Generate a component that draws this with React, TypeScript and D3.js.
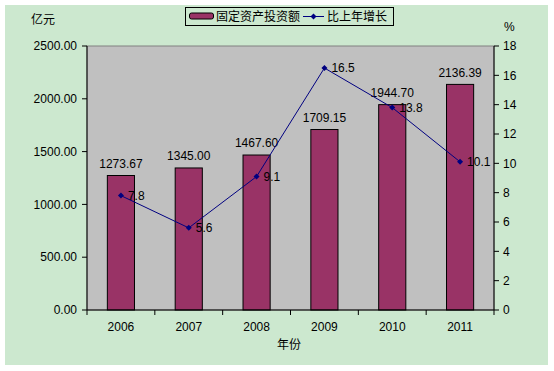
import React from "react";
import * as d3 from "d3";

const years = ["2006", "2007", "2008", "2009", "2010", "2011"];
const investment = [1273.67, 1345.0, 1467.6, 1709.15, 1944.7, 2136.39];
const growth = [7.8, 5.6, 9.1, 16.5, 13.8, 10.1];
const leftTicks = [0, 500, 1000, 1500, 2000, 2500];
const rightTicks = [0, 2, 4, 6, 8, 10, 12, 14, 16, 18];

const W = 554;
const H = 371;
const plot = { left: 87, right: 494, top: 46, bottom: 310 };
const numFont = "'Liberation Sans', Arial, sans-serif";
const cjkFont = "'Noto Sans CJK SC', sans-serif";

export default function App() {
  const x = d3.scaleBand<string>().domain(years).range([plot.left, plot.right]).paddingInner(0).paddingOuter(0);
  const yL = d3.scaleLinear().domain([0, 2500]).range([plot.bottom, plot.top]);
  const yR = d3.scaleLinear().domain([0, 18]).range([plot.bottom, plot.top]);
  const bw = x.bandwidth() / 2.5;
  const cx = (d: string) => (x(d) as number) + x.bandwidth() / 2;
  const line = d3
    .line<number>()
    .x((_, i) => cx(years[i]))
    .y((d) => yR(d));
  const diamond = (px: number, py: number, r = 3) =>
    `M${px},${py - r}L${px + r},${py}L${px},${py + r}L${px - r},${py}Z`;

  return (
    <svg
      width={W}
      height={H}
      style={{ position: "absolute", left: 0, top: 0, display: "block" }}
    >
      <rect x={0} y={0} width={W} height={H} fill="#ffffff" />
      <rect x={5} y={5} width={543} height={360} fill="#CCE8CF" />
      {/* plot area */}
      <rect
        x={plot.left}
        y={plot.top}
        width={plot.right - plot.left}
        height={plot.bottom - plot.top}
        fill="#C0C0C0"
        stroke="#808080"
        strokeWidth={1}
      />
      {/* bars */}
      {investment.map((v, i) => (
        <rect
          key={years[i]}
          x={cx(years[i]) - bw / 2}
          y={yL(v)}
          width={bw}
          height={plot.bottom - yL(v)}
          fill="#993366"
          stroke="#000000"
          strokeWidth={1}
        />
      ))}
      {/* axes */}
      <line x1={plot.left} x2={plot.left} y1={plot.top} y2={plot.bottom} stroke="#000" />
      <line x1={plot.right} x2={plot.right} y1={plot.top} y2={plot.bottom} stroke="#000" />
      <line x1={plot.left} x2={plot.right} y1={plot.bottom} y2={plot.bottom} stroke="#000" />
      {leftTicks.map((t) => (
        <g key={"l" + t}>
          <line x1={plot.left - 5} x2={plot.left} y1={yL(t)} y2={yL(t)} stroke="#000" />
          <text
            x={77}
            y={yL(t)}
            dy="0.35em"
            textAnchor="end"
            fontSize={12}
            fontFamily={numFont}
            fill="#000"
          >
            {t.toFixed(2)}
          </text>
        </g>
      ))}
      {rightTicks.map((t) => (
        <g key={"r" + t}>
          <line x1={plot.right} x2={plot.right + 5} y1={yR(t)} y2={yR(t)} stroke="#000" />
          <text
            x={503}
            y={yR(t)}
            dy="0.35em"
            textAnchor="start"
            fontSize={12}
            fontFamily={numFont}
            fill="#000"
          >
            {t}
          </text>
        </g>
      ))}
      {years.map((yr, i) => (
        <g key={"x" + yr}>
          <line
            x1={(x(yr) as number) + (i === 0 ? 0 : 0)}
            x2={x(yr) as number}
            y1={plot.bottom}
            y2={plot.bottom + 5}
            stroke="#000"
          />
          <text
            x={cx(yr)}
            y={327}
            dy="0.35em"
            textAnchor="middle"
            fontSize={12}
            fontFamily={numFont}
            fill="#000"
          >
            {yr}
          </text>
        </g>
      ))}
      <line x1={plot.right} x2={plot.right} y1={plot.bottom} y2={plot.bottom + 5} stroke="#000" />
      {/* bar labels */}
      {investment.map((v, i) => (
        <text
          key={"bl" + i}
          x={cx(years[i])}
          y={yL(v) - 12}
          dy="0.35em"
          textAnchor="middle"
          fontSize={12}
          fontFamily={numFont}
          fill="#000"
        >
          {v.toFixed(2)}
        </text>
      ))}
      {/* line */}
      <path d={line(growth) || ""} fill="none" stroke="#000080" strokeWidth={1} />
      {growth.map((g, i) => (
        <g key={"p" + i}>
          <path d={diamond(cx(years[i]), yR(g))} fill="#000080" />
          <text
            x={cx(years[i]) + 7}
            y={yR(g)}
            dy="0.35em"
            textAnchor="start"
            fontSize={12}
            fontFamily={numFont}
            fill="#000"
          >
            {g.toFixed(1)}
          </text>
        </g>
      ))}
      {/* axis titles */}
      <text x={43} y={20} dy="0.35em" textAnchor="middle" fontSize={12} fontFamily={cjkFont} fill="#000">
        亿元
      </text>
      <text x={504} y={27} dy="0.35em" textAnchor="start" fontSize={12} fontFamily={numFont} fill="#000">
        %
      </text>
      <text x={289} y={345} dy="0.35em" textAnchor="middle" fontSize={12} fontFamily={cjkFont} fill="#000">
        年份
      </text>
      {/* legend */}
      <rect x={185.5} y={7.5} width={208} height={18} fill="none" stroke="#000" strokeWidth={1} />
      <rect x={189.5} y={13} width={24} height={6} rx={2} fill="#993366" stroke="#000" strokeWidth={1} />
      <text x={216} y={16.5} dy="0.35em" fontSize={12} fontFamily={cjkFont} fill="#000">
        固定资产投资额
      </text>
      <line x1={303} x2={324} y1={16.5} y2={16.5} stroke="#000080" strokeWidth={1} />
      <path d={diamond(313.5, 16.5)} fill="#000080" />
      <text x={327} y={16.5} dy="0.35em" fontSize={12} fontFamily={cjkFont} fill="#000">
        比上年增长
      </text>
    </svg>
  );
}
